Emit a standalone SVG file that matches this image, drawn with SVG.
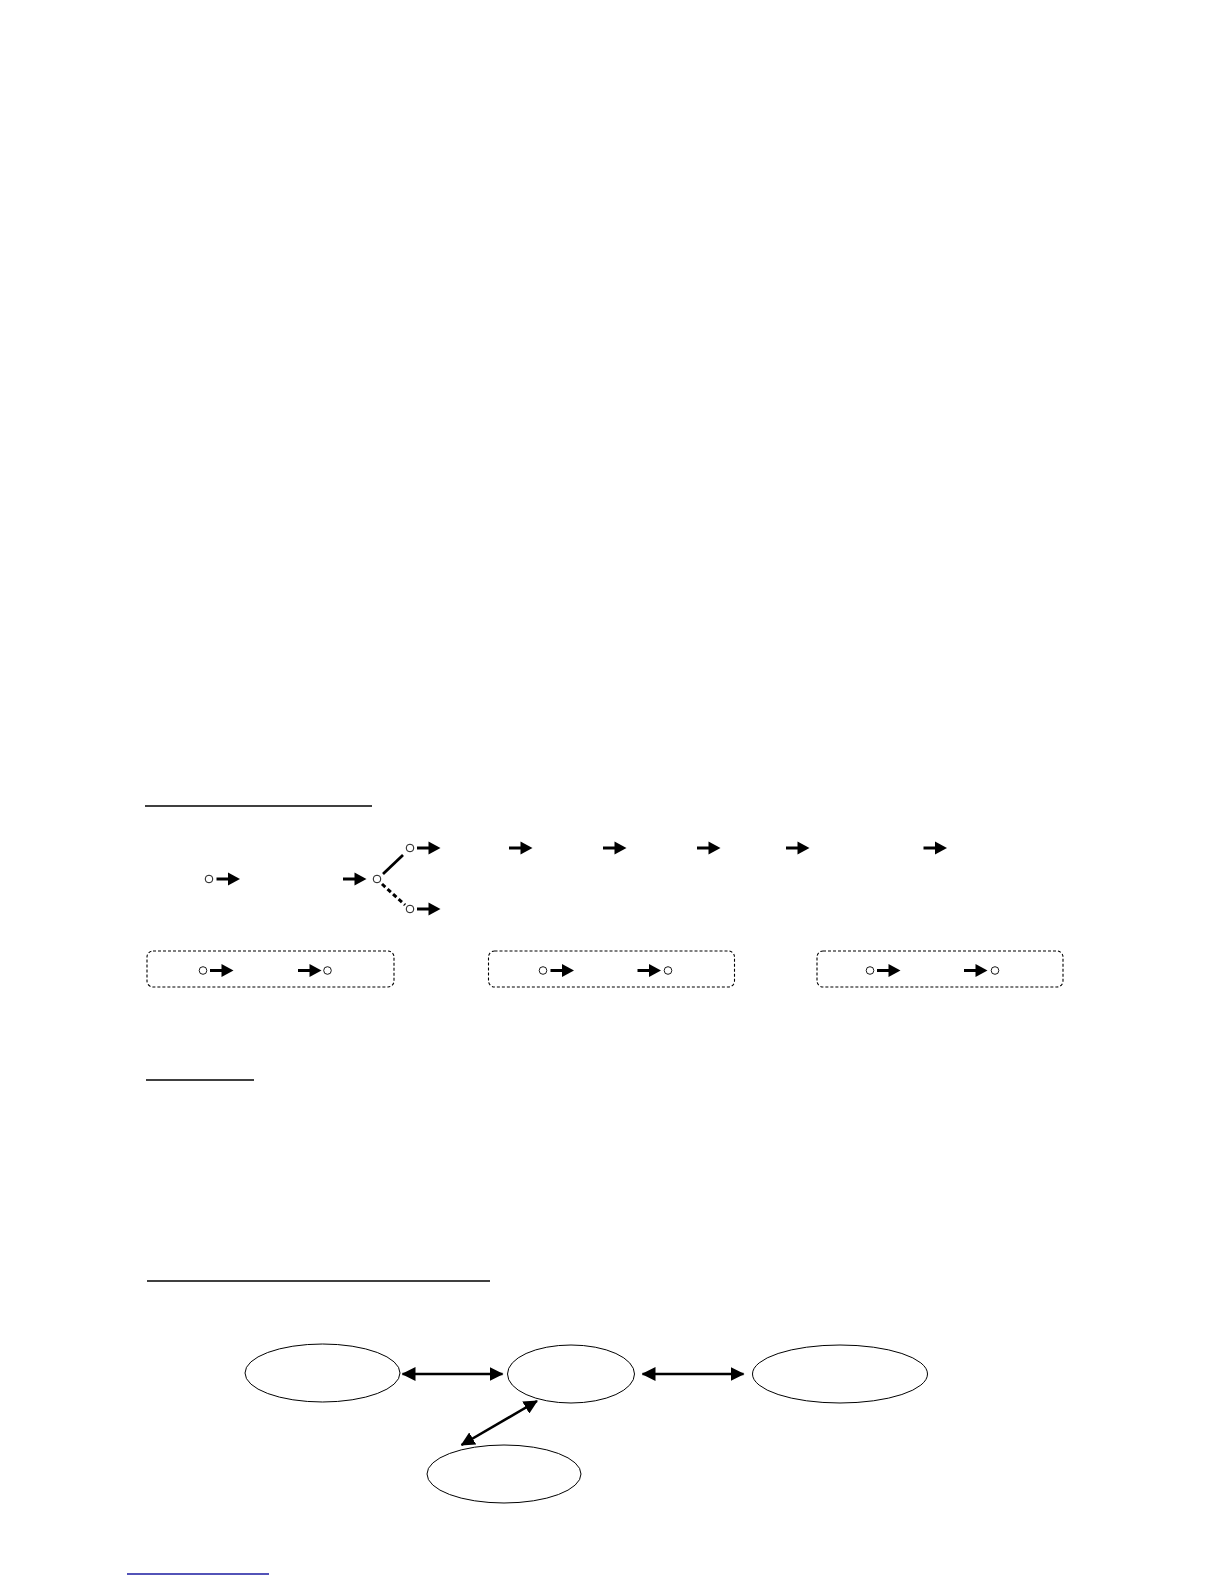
<svg xmlns="http://www.w3.org/2000/svg" width="1224" height="1584" viewBox="0 0 1224 1584">
<style>
.ul{stroke:#000;stroke-width:1.5;fill:none}
.node{fill:#fff;stroke:#000;stroke-width:1}
.dot{fill:#fff;stroke:#000;stroke-width:0.9}
.box{fill:none;stroke:#000;stroke-width:1.1;stroke-dasharray:3,2}
.conn{stroke:#000;stroke-width:2.6;fill:none}
</style>
<defs>
<g id="sa"><line x1="0" y1="0" x2="13" y2="0" stroke="#000" stroke-width="3"/><polygon points="11.5,-6.5 23.5,0 11.5,6.5" fill="#000"/></g>
<marker id="ah" viewBox="0 0 14 14" refX="13" refY="7" markerWidth="14" markerHeight="14" markerUnits="userSpaceOnUse" orient="auto-start-reverse"><polygon points="0,0 14,7 0,14" fill="#000"/></marker>
</defs>
<rect width="1224" height="1584" fill="#fff"/>

<g id="headings">
<line class="ul" x1="145" y1="806" x2="372" y2="806"/>
<line class="ul" x1="146" y1="1080" x2="254" y2="1080" stroke-width="2"/>
<line class="ul" x1="147" y1="1281" x2="490" y2="1281"/>
<line x1="127" y1="1574" x2="269" y2="1574" stroke="#1a1aa0" stroke-width="1.5"/>
</g>

<g id="flow">
<circle class="dot" cx="209" cy="879" r="3.8"/>
<use href="#sa" x="216.5" y="879"/>
<use href="#sa" x="343" y="879"/>
<circle class="dot" cx="377" cy="879" r="3.8"/>
<line x1="383" y1="874" x2="403" y2="855" stroke="#000" stroke-width="2.8"/>
<line x1="382" y1="884" x2="405" y2="905" stroke="#000" stroke-width="3" stroke-dasharray="4.5,3"/>
<circle class="dot" cx="410" cy="848" r="3.8"/>
<use href="#sa" x="417" y="848"/>
<use href="#sa" x="509" y="848"/>
<use href="#sa" x="603" y="848"/>
<use href="#sa" x="697" y="848"/>
<use href="#sa" x="786" y="848"/>
<use href="#sa" x="923.5" y="848"/>
<circle class="dot" cx="410" cy="909" r="3.8"/>
<use href="#sa" x="417" y="909"/>
</g>

<g id="box1">
<rect class="box" x="147" y="951" width="247" height="36" rx="6"/>
<circle class="dot" cx="203" cy="970.5" r="3.8"/>
<use href="#sa" x="210" y="970.5"/>
<use href="#sa" x="298" y="970.5"/>
<circle class="dot" cx="327.5" cy="970.5" r="3.8"/>
</g>
<g id="box2">
<rect class="box" x="488.5" y="951" width="246" height="36" rx="6"/>
<circle class="dot" cx="543" cy="970.5" r="3.8"/>
<use href="#sa" x="550.5" y="970.5"/>
<use href="#sa" x="637.5" y="970.5"/>
<circle class="dot" cx="668" cy="970.5" r="3.8"/>
</g>
<g id="box3">
<rect class="box" x="817" y="951" width="246" height="36" rx="6"/>
<circle class="dot" cx="870" cy="970.5" r="3.8"/>
<use href="#sa" x="877" y="970.5"/>
<use href="#sa" x="964" y="970.5"/>
<circle class="dot" cx="995" cy="970.5" r="3.8"/>
</g>

<g id="n1"><ellipse class="node" cx="322.5" cy="1373" rx="77.5" ry="29"/></g>
<g id="n2"><ellipse class="node" cx="571" cy="1374" rx="63.5" ry="29"/></g>
<g id="n3"><ellipse class="node" cx="840" cy="1374" rx="87.5" ry="29"/></g>
<g id="n4"><ellipse class="node" cx="504" cy="1474" rx="77" ry="29"/></g>

<g id="connectors">
<line class="conn" x1="402.5" y1="1374" x2="502.5" y2="1374" marker-start="url(#ah)" marker-end="url(#ah)"/>
<line class="conn" x1="642.5" y1="1374" x2="743.5" y2="1374" marker-start="url(#ah)" marker-end="url(#ah)"/>
<line class="conn" x1="537" y1="1401" x2="461.5" y2="1445" marker-start="url(#ah)" marker-end="url(#ah)"/>
</g>
</svg>
